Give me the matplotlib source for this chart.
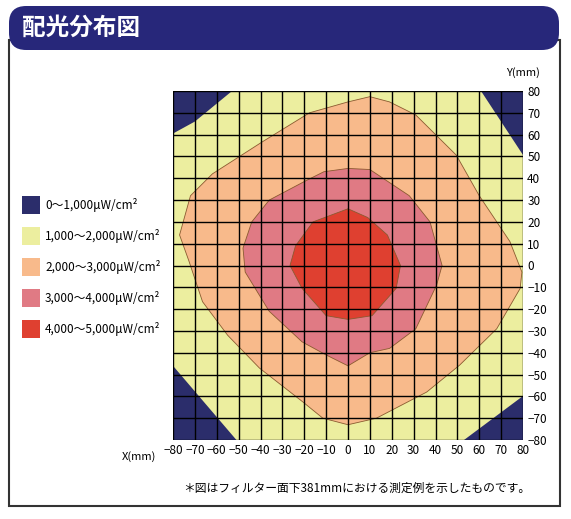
import matplotlib
matplotlib.use("Agg")
import matplotlib.pyplot as plt
from matplotlib.patches import FancyBboxPatch, Rectangle

plt.rcParams['font.family'] = ['Noto Sans CJK JP', 'DejaVu Sans']

W, H = 571, 519
title = "配光分布図"
legend_labels = ["0～1,000μW/cm²", "1,000～2,000μW/cm²", "2,000～3,000μW/cm²",
                 "3,000～4,000μW/cm²", "4,000～5,000μW/cm²"]
colors = ["#2b2d6b", "#ecee9f", "#f8ba8b", "#e07a84", "#df4030"]
ticks = list(range(-80, 81, 10))
note = "＊図はフィルター面下381mmにおける測定例を示したものです。"

corner_tl = [(-80, 80), (-53, 80), (-70, 66), (-80, 60.5)]
corner_tr = [(61, 80), (80, 80), (80, 50.5)]
corner_bl = [(-80, -46), (-51, -80), (-80, -80)]
corner_br = [(53, -80), (80, -80), (80, -60)]
orange = [(10, 77.4), (0, 75), (-17.6, 70), (-39, 56.8), (-62, 42), (-72, 32), (-77, 14),
          (-72.7, 2), (-66.5, -16.6), (-55, -32), (-40.5, -47), (-20.7, -62.5), (-11.5, -70),
          (0, -73), (13, -70), (36, -58), (51, -45.7), (68, -29), (78.7, -10.5), (79.5, -3),
          (74, 11), (60, 32), (49.5, 50.6), (31, 69), (19, 75)]
pink = [(0, 44.5), (10, 44), (28, 32), (37.5, 20), (43, 0), (40.5, -9), (31, -29), (19, -38),
        (10, -40), (0, -46), (-10, -41), (-21, -35), (-36, -21), (-47, -3), (-48, 8),
        (-44, 20), (-36, 30), (-19, 39), (-11, 43)]
red = [(0, 26), (9, 22), (18, 14), (24, 0), (22, -10.5), (11, -23), (0, -24.7), (-10, -23),
       (-21, -10.5), (-26.5, 0), (-24, 9), (-16, 20)]

fig = plt.figure(figsize=(W/100, H/100), dpi=100)
def fx(x): return x / W
def fy(y): return 1 - y / H

# outer box
fig.patches.append(Rectangle((fx(9), fy(506)), fx(560)-fx(9), fy(40)-fy(506),
                             transform=fig.transFigure, fill=False, edgecolor="#333333", lw=1.5))
fig.patches.append(FancyBboxPatch((fx(9), fy(50)), fx(559)-fx(9), fy(6)-fy(50),
                                  boxstyle="round,pad=0,rounding_size=0.03",
                                  transform=fig.transFigure, facecolor="#27277a", edgecolor="none",
                                  mutation_aspect=W/H))
fig.text(fx(22), fy(28), title, color="white", fontsize=17, fontweight="bold", va="center")

ax = fig.add_axes([fx(173), fy(440), fx(523)-fx(173), fy(91)-fy(440)])
ax.set_facecolor(colors[1])
for poly in (corner_tl, corner_tr, corner_bl, corner_br):
    xs, ys = zip(*poly)
    ax.fill(xs, ys, color=colors[0], lw=0)
for poly, c in ((orange, colors[2]), (pink, colors[3]), (red, colors[4])):
    xs, ys = zip(*poly)
    ax.fill(xs, ys, facecolor=c, edgecolor="#8a5a30", lw=0.6)
for t in ticks:
    ax.axvline(t, color="black", lw=1)
    ax.axhline(t, color="black", lw=1)
ax.set_xlim(-80, 80); ax.set_ylim(-80, 80)
ax.set_xticks(ticks); ax.set_yticks(ticks)
ax.set_xticklabels([str(t).replace("-", "−") for t in ticks], fontsize=8.5)
ax.set_yticklabels([str(t).replace("-", "−") for t in ticks], fontsize=8.5)
ax.yaxis.tick_right()
ax.tick_params(length=0, pad=3)
for s in ax.spines.values():
    s.set_visible(False)
fig.text(fx(540), fy(73), "Y(mm)", fontsize=8, ha="right", va="center")
fig.text(fx(156), fy(457), "X(mm)", fontsize=8, ha="right", va="center")
fig.text(fx(530), fy(488), note, fontsize=8.5, ha="right", va="center")

rows = [205, 236, 267, 298, 329]
for r, c, lab in zip(rows, colors, legend_labels):
    fig.patches.append(Rectangle((fx(22), fy(r+9)), fx(18), fy(0)-fy(18),
                                 transform=fig.transFigure, facecolor=c, edgecolor="none"))
    fig.text(fx(45), fy(r), lab, fontsize=8.5, va="center")

fig.savefig("out.png", dpi=100)
